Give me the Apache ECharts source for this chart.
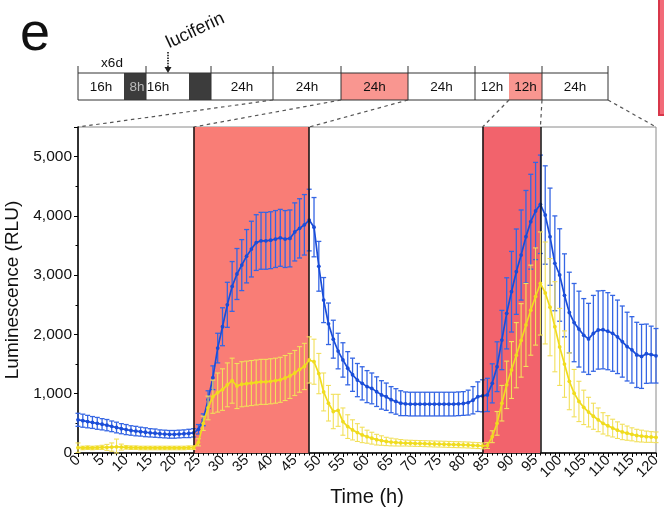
<!DOCTYPE html>
<html>
<head>
<meta charset="utf-8">
<script src="https://cdn.jsdelivr.net/npm/echarts@6/dist/echarts.min.js"></script>
<style>
html,body{margin:0;padding:0;background:#fff;}
#c{width:664px;height:508px;}
</style>
</head>
<body>
<div id="c"></div>
<script>
// ---- data (hourly, 0..120 h) ----
const hours = Array.from({length:121}, (_, i) => i);
const xTicks = [0,5,10,15,20,25,30,35,40,45,50,55,60,65,70,75,80,85,90,95,100,105,110,115,120];
const yTicks = [0,1000,2000,3000,4000,5000];
const lightPeriods = [[24,48],[84,96]];
const boundaryLines = [24,48,84,96];

const blueMean = [
 560,545,530,515,500,485,470,450,430,410,395,380,370,360,350,340,335,325,320,315,315,320,325,330,340,
 400,560,900,1270,1770,2130,2500,2810,3020,3170,3320,3440,3550,3580,3580,3590,3610,3630,3610,3620,3730,3790,3850,3930,
 3810,3150,2580,2180,1920,1720,1570,1430,1320,1230,1175,1120,1090,1035,980,950,900,870,840,830,825,825,825,825,825,825,825,825,825,825,830,835,850,890,950,965,
 980,1175,1456,1906,2356,2721,3059,3340,3649,3902,4083,4196,
 4015,3649,3200,3003,2660,2370,2200,2090,1985,1925,2019,2075,2080,2055,2019,1960,1880,1795,1740,1655,1630,1675,1660,1640
];
const blueErr = [
 110,110,105,100,100,95,95,90,90,85,85,80,80,75,75,70,70,65,65,65,65,65,65,70,70,
 80,100,150,200,250,320,380,420,430,430,450,470,470,480,480,480,480,480,480,480,490,500,510,520,
 500,420,380,350,320,300,290,280,280,280,280,270,260,250,240,230,220,215,210,200,200,200,200,200,200,200,200,200,200,200,200,200,210,230,250,270,
 280,330,420,500,600,680,720,760,780,800,820,830,
 830,820,800,780,700,680,660,640,620,600,640,660,660,650,640,620,600,580,560,550,540,500,480,460
];
const yellowMean = [
 90,85,90,85,90,95,95,100,105,100,95,90,90,85,85,85,85,85,85,85,85,85,85,90,90,
 180,500,760,950,1020,1070,1150,1220,1130,1160,1170,1180,1190,1200,1200,1210,1220,1235,1265,1300,1350,1410,1460,1570,
 1540,1340,1030,840,700,720,530,445,390,345,305,275,250,225,210,195,185,178,172,168,165,162,160,158,155,152,150,148,145,142,140,138,135,130,125,120,
 127,275,500,840,1150,1400,1650,1900,2160,2410,2640,2860,
 2700,2460,2130,1790,1500,1210,1010,870,770,690,620,560,500,460,420,385,355,335,315,295,285,275,270,265
];
const yellowErr = [
 80,30,30,30,30,35,50,70,130,50,30,30,30,30,30,30,30,30,30,30,30,30,30,30,30,
 60,120,200,280,330,350,370,380,380,380,380,380,380,380,380,380,380,380,380,380,380,385,390,390,
 380,340,320,300,290,270,230,200,170,150,130,110,100,90,80,70,65,60,55,50,50,50,50,50,50,50,50,50,50,50,50,50,50,50,50,50,
 50,100,200,300,400,480,550,620,700,760,820,870,
 860,820,760,650,560,480,400,340,290,250,220,200,180,170,150,140,130,120,110,105,100,95,90,90
];

// ---- build ----
const FONT = '"Liberation Sans", Arial, sans-serif';
const BLUE = '#1A4DD8', BLUE_ERR = '#3566E4';
const YEL = '#F0DC1E', YEL_ERR = '#F2E05A';

function pts(m){ return hours.map((h,i)=>[h, m[i]]); }
function errData(m,e){ return hours.map((h,i)=>[h, m[i], e[i]]); }
function errRender(color, lw){
  return function(params, api){
    const x = api.value(0), y = api.value(1), e = api.value(2);
    const top = api.coord([x, y + e]);
    const bot = api.coord([x, Math.max(0, y - e)]);
    const w = 2.5;
    const st = {stroke: color, lineWidth: lw};
    return {type:'group', children:[
      {type:'line', shape:{x1:top[0], y1:top[1], x2:bot[0], y2:bot[1]}, style:st},
      {type:'line', shape:{x1:top[0]-w, y1:top[1], x2:top[0]+w, y2:top[1]}, style:st},
      {type:'line', shape:{x1:bot[0]-w, y1:bot[1], x2:bot[0]+w, y2:bot[1]}, style:st}
    ]};
  };
}

const chart = echarts.init(document.getElementById('c'), null, {renderer:'canvas'});
const shadeColors = ['#F97D76', '#F2636C'];

chart.setOption({
  animation: false,
  backgroundColor: '#fff',
  grid: {left: 78, right: 8, top: 127, bottom: 55, outerBoundsMode: 'none', containLabel: false,
    show: true, borderColor: '#8a8a8a', borderWidth: 1, backgroundColor: 'transparent'},
  xAxis: {
    type: 'value', min: 0, max: 120, interval: 5,
    name: 'Time (h)', nameLocation: 'middle', nameGap: 31,
    nameTextStyle: {fontFamily: FONT, fontSize: 20, color: '#111'},
    axisLine: {show: true, onZero: false, lineStyle: {color: '#000', width: 1.5}},
    axisTick: {show: true, inside: false, length: 4, lineStyle: {color: '#000', width: 1}},
    minorTick: {show: true, splitNumber: 5, length: 2.5, lineStyle: {color: '#000', width: 1}},
    splitLine: {show: false},
    axisLabel: {rotate: 45, fontFamily: FONT, fontSize: 14.5, color: '#111', margin: 5,
      formatter: v => xTicks.indexOf(v) >= 0 ? String(v) : ''}
  },
  yAxis: {
    type: 'value', min: 0, max: 5500, interval: 1000,
    name: 'Luminescence (RLU)', nameLocation: 'middle', nameGap: 44,
    nameTextStyle: {fontFamily: FONT, fontSize: 19, color: '#111'},
    axisLine: {show: true, lineStyle: {color: '#000', width: 1.5}},
    axisTick: {show: true, length: 4, lineStyle: {color: '#000', width: 1}},
    minorTick: {show: true, splitNumber: 2, length: 2.5, lineStyle: {color: '#000'}},
    splitLine: {show: false},
    axisLabel: {showMaxLabel: false, fontFamily: FONT, fontSize: 15.5, color: '#111', margin: 6,
      formatter: v => yTicks.indexOf(v) >= 0 ? v.toLocaleString('en-US') : ''}
  },
  series: [
    {
      type: 'line', data: [], z: 1,
      markArea: {silent: true, data: lightPeriods.map((p, i) => [
        {xAxis: p[0], itemStyle: {color: shadeColors[i]}}, {xAxis: p[1]}
      ])},
      markLine: {silent: true, symbol: ['none','none'], label: {show: false},
        lineStyle: {color: '#111', width: 1.5, type: 'solid'},
        data: boundaryLines.map(v => ({xAxis: v}))}
    },
    {type: 'custom', data: errData(blueMean, blueErr), renderItem: errRender(BLUE_ERR, 1.3), z: 3},
    {type: 'line', data: pts(blueMean), z: 4, symbol: 'circle', symbolSize: 3.8,
      itemStyle: {color: BLUE}, lineStyle: {color: BLUE, width: 1.7}},
    {type: 'custom', data: errData(yellowMean, yellowErr), renderItem: errRender(YEL_ERR, 1.1), z: 5},
    {type: 'line', data: pts(yellowMean), z: 6, symbol: 'circle', symbolSize: 3.8,
      itemStyle: {color: YEL}, lineStyle: {color: YEL, width: 1.7}}
  ]
});

// ---- timeline schematic ----
const T = 73, B = 100, TK = 66;
const dividers = [78,146,211,273,341,408,475,542,608];
const g = [];
g.push({type:'text', left: 20, top: 8, style:{text:'e', font:'54px ' + FONT, fill:'#111'}});
g.push({type:'rect', shape:{x:124, y:T, width:22, height:B-T}, style:{fill:'#3c3c3c'}});
g.push({type:'rect', shape:{x:189, y:T, width:22, height:B-T}, style:{fill:'#3c3c3c'}});
g.push({type:'rect', shape:{x:341, y:T, width:67, height:B-T}, style:{fill:'#F99690'}});
g.push({type:'rect', shape:{x:509, y:T, width:33, height:B-T}, style:{fill:'#F99690'}});
g.push({type:'line', shape:{x1:78, y1:T, x2:608, y2:T}, style:{stroke:'#333', lineWidth:1}});
g.push({type:'line', shape:{x1:78, y1:B, x2:608, y2:B}, style:{stroke:'#333', lineWidth:1}});
dividers.forEach(x => g.push({type:'line', shape:{x1:x, y1:TK, x2:x, y2:B}, style:{stroke:'#333', lineWidth:1}}));
const cellTexts = [
  ['16h',101,'#111'],['8h',137,'#bbb'],['16h',158,'#111'],['24h',242,'#111'],['24h',307,'#111'],
  ['24h',374.5,'#111'],['24h',441.5,'#111'],['12h',492,'#111'],['12h',525.5,'#111'],['24h',575,'#111']
];
cellTexts.forEach(t => g.push({type:'text', x:t[1], y:87, style:{text:t[0], fill:t[2], font:'13.5px ' + FONT, align:'center', verticalAlign:'middle'}}));
g.push({type:'text', x:112, y:63, style:{text:'x6d', fill:'#111', font:'13.5px ' + FONT, align:'center', verticalAlign:'middle'}});
g.push({type:'line', shape:{x1:168, y1:52, x2:168, y2:68}, style:{stroke:'#444', lineWidth:2, lineDash:[1.5,1.2]}});
g.push({type:'polygon', shape:{points:[[164.5,67],[171.5,67],[168,73]]}, style:{fill:'#222'}});
g.push({type:'text', x:171, y:52, rotation: 25*Math.PI/180,
  style:{text:'luciferin', fill:'#111', font:'18px ' + FONT, align:'left', verticalAlign:'bottom'}});
g.push({type:'rect', shape:{x:659, y:-10, width:30, height:125}, style:{fill:'#F26A78', stroke:'#D8374A', lineWidth:2}});

// dashed connectors from the timeline to the plot, ends located via the x axis
const plotTop = 127;
const conn = [[273,0],[341,24],[408,48],[509,84],[542,96],[608,120]];
conn.forEach(c => {
  const px = chart.convertToPixel({xAxisIndex:0}, c[1]);
  g.push({type:'line', shape:{x1:c[0], y1:B, x2:px, y2:plotTop}, style:{stroke:'#555', lineWidth:1.2, lineDash:[3.5,3.5]}});
});
chart.setOption({graphic: g});
</script>
</body>
</html>
